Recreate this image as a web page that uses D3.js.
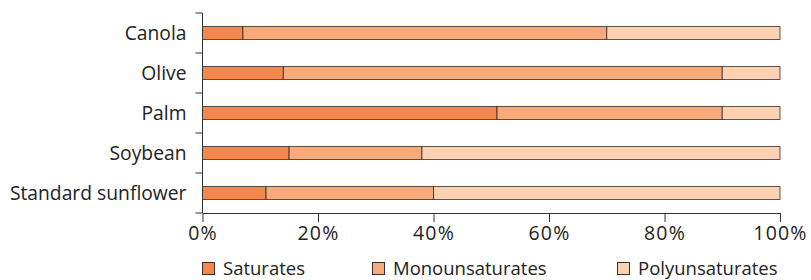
<!DOCTYPE html>
<html>
<head>
<meta charset="utf-8">
<script src="https://cdn.jsdelivr.net/npm/d3@7"></script>
<style>
  body { margin: 0; background: #fff; }
  svg { display: block; font-family: "Open Sans", "Noto Sans", sans-serif; }
</style>
</head>
<body>
<div class="canvas"></div>
<script>
const oils = ['Canola', 'Olive', 'Palm', 'Soybean', 'Standard sunflower']
const fats = ['Saturates', 'Monounsaturates', 'Polyunsaturates']
const saturates = [7, 14, 51, 15, 11]
const monounsaturates = [63, 76, 39, 23, 29]
const polyunsaturates = [30, 10, 10, 62, 60]
const xTicks = [0, 20, 40, 60, 80, 100]
const colors = ['#f5874a', '#f9aa7a', '#fdd2b3']

const width = 811, height = 280
const m = { top: 13, left: 202.5, right: 31, bottom: 67 }

const svg = d3.select('.canvas').append('svg')
  .attr('width', width)
  .attr('height', height)

const rows = oils.map((name, i) => ({
  name: name,
  Saturates: saturates[i],
  Monounsaturates: monounsaturates[i],
  Polyunsaturates: polyunsaturates[i]
}))

const x = d3.scaleLinear().domain([0, 100]).range([m.left, width - m.right])
const y = d3.scaleBand().domain(oils).range([m.top, height - m.bottom]).paddingInner(0.675).paddingOuter(0.3375)
const yAxisBand = d3.scaleBand().domain(oils).range([m.top, height - m.bottom])
const color = d3.scaleOrdinal().domain(fats).range(colors)

const stacked = d3.stack().keys(fats)(rows)

svg.append('g')
  .selectAll('g')
  .data(stacked)
  .join('g')
    .attr('fill', d => color(d.key))
  .selectAll('rect')
  .data(d => d)
  .join('rect')
    .attr('x', d => x(d[0]))
    .attr('y', d => y(d.data.name))
    .attr('width', d => x(d[1]) - x(d[0]))
    .attr('height', y.bandwidth())
    .attr('stroke', '#222')
    .attr('stroke-opacity', 0.75)
    .attr('stroke-width', 1)

// y axis: line + ticks at band edges
const yg = svg.append('g')
yg.append('line')
  .attr('x1', m.left).attr('x2', m.left)
  .attr('y1', m.top).attr('y2', height - m.bottom)
  .attr('stroke', '#333')
const edges = oils.map(o => yAxisBand(o)).concat([height - m.bottom])
yg.selectAll('.edge')
  .data(edges)
  .join('line')
    .attr('x1', m.left - 7).attr('x2', m.left)
    .attr('y1', d => d).attr('y2', d => d)
    .attr('stroke', '#333')
yg.selectAll('text')
  .data(oils)
  .join('text')
    .attr('x', m.left - 16)
    .attr('y', d => yAxisBand(d) + yAxisBand.bandwidth() / 2)
    .attr('dy', '0.35em')
    .attr('text-anchor', 'end')
    .attr('font-size', 19.3)
    .attr('fill', '#222')
    .text(d => d)

// x axis
const xAxis = d3.axisBottom(x)
  .tickValues(xTicks)
  .tickFormat(d => d + '%')
  .tickSize(9)
  .tickSizeOuter(0)
  .tickPadding(4)

svg.append('g')
  .attr('transform', `translate(0,${height - m.bottom})`)
  .call(xAxis)
  .call(g => g.select('.domain').attr('stroke', '#333'))
  .call(g => g.selectAll('.tick line').attr('stroke', '#333'))
  .call(g => g.selectAll('.tick text')
    .attr('font-size', 19.5)
    .attr('letter-spacing', 1.2)
    .attr('font-family', '"Open Sans", "Noto Sans", sans-serif')
    .attr('fill', '#222'))

// legend
const legendX = [202, 372, 617]
const legend = svg.append('g')
  .selectAll('g')
  .data(fats)
  .join('g')
    .attr('transform', (d, i) => `translate(${legendX[i]},262)`)
legend.append('rect')
  .attr('x', 0.5).attr('y', 0.5)
  .attr('width', 12).attr('height', 12)
  .attr('fill', d => color(d))
  .attr('stroke', '#333')
legend.append('text')
  .attr('x', 21)
  .attr('y', 12.5)
  .attr('font-size', 18.5)
  .attr('fill', '#222')
  .text(d => d)
</script>
</body>
</html>
